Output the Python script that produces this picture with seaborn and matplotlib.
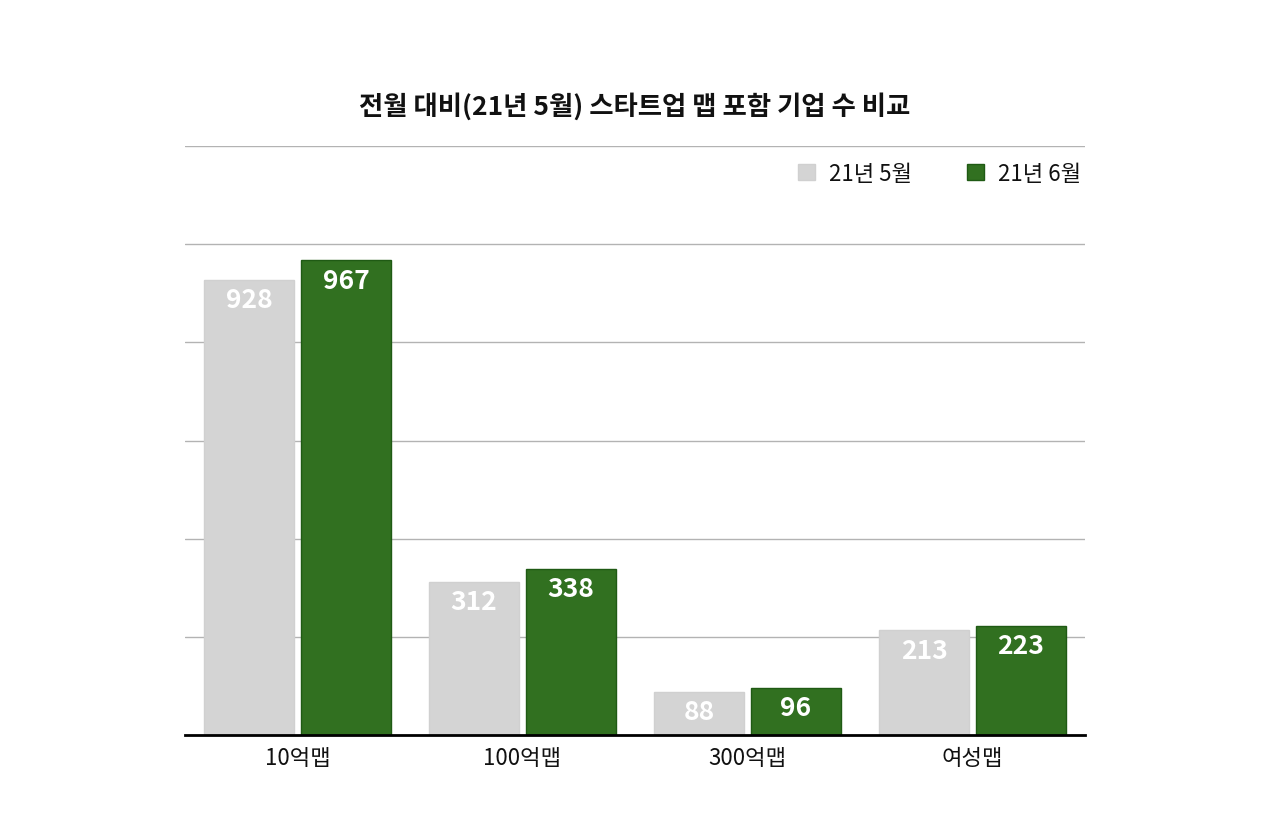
import matplotlib
matplotlib.use("Agg")
import matplotlib.pyplot as plt
import seaborn as sns
import pandas as pd
from matplotlib.patches import Patch

categories = ["10억맵", "100억맵", "300억맵", "여성맵"]
may_values = [928, 312, 88, 213]
jun_values = [967, 338, 96, 223]
series_names = ["21년 5월", "21년 6월"]
title = "전월 대비(21년 5월) 스타트업 맵 포함 기업 수 비교"

sns.set_theme(style="white")
plt.rcParams["font.family"] = ["Noto Sans CJK KR", "DejaVu Sans"]

df = pd.DataFrame({
    "cat": categories * 2,
    "val": may_values + jun_values,
    "series": [series_names[0]] * 4 + [series_names[1]] * 4,
})

colors = {series_names[0]: "#d4d4d4", series_names[1]: "#317020"}
edges = {series_names[0]: "#d0d0d0", series_names[1]: "#1f5a14"}

fig = plt.figure(figsize=(12.8, 8.37), dpi=100)
ax = fig.add_axes([185/1280, 1-736/837, 900/1280, 589/837])

sns.barplot(data=df, x="cat", y="val", hue="series", palette=colors,
            width=0.86, gap=0.07, ax=ax, legend=False, saturation=1)

ax.set_ylim(0, 1200)
ax.set_xlim(-0.5, 3.5)
ax.set_yticks([200, 400, 600, 800, 1000, 1200])
ax.yaxis.grid(True, color="#b3b3b3", linewidth=1)
ax.set_axisbelow(True)
ax.tick_params(axis="y", left=False, labelleft=False)
ax.tick_params(axis="x", length=0, pad=8, labelsize=16, labelcolor="#111111")
ax.set_xlabel("")
ax.set_ylabel("")
for s in ["top", "right", "left"]:
    ax.spines[s].set_visible(False)
ax.spines["bottom"].set_color("black")
ax.spines["bottom"].set_linewidth(2)

for i, cont in enumerate(ax.containers):
    name = series_names[i]
    for bar in cont:
        bar.set_edgecolor(edges[name])
        bar.set_linewidth(1)
    vals = may_values if i == 0 else jun_values
    ax.bar_label(cont, labels=[str(v) for v in vals],
                 label_type="edge", padding=-24, color="white", fontsize=19,
                 fontweight="bold")

handles = [Patch(facecolor=colors[n], edgecolor=edges[n]) for n in series_names]
leg = ax.legend(handles, series_names, loc="upper right", bbox_to_anchor=(1.013, 1.0),
                ncol=2, frameon=False, fontsize=16, handlelength=0.77, handleheight=0.77,
                handletextpad=0.63, columnspacing=2.45, borderaxespad=0.3)
for t in leg.get_texts():
    t.set_color("#111111")

fig.text(635/1280, 1-107/837, title, ha="center", va="center",
         fontsize=19, fontweight="bold", color="#111111")

fig.savefig("out.png", dpi=100, facecolor="white")
